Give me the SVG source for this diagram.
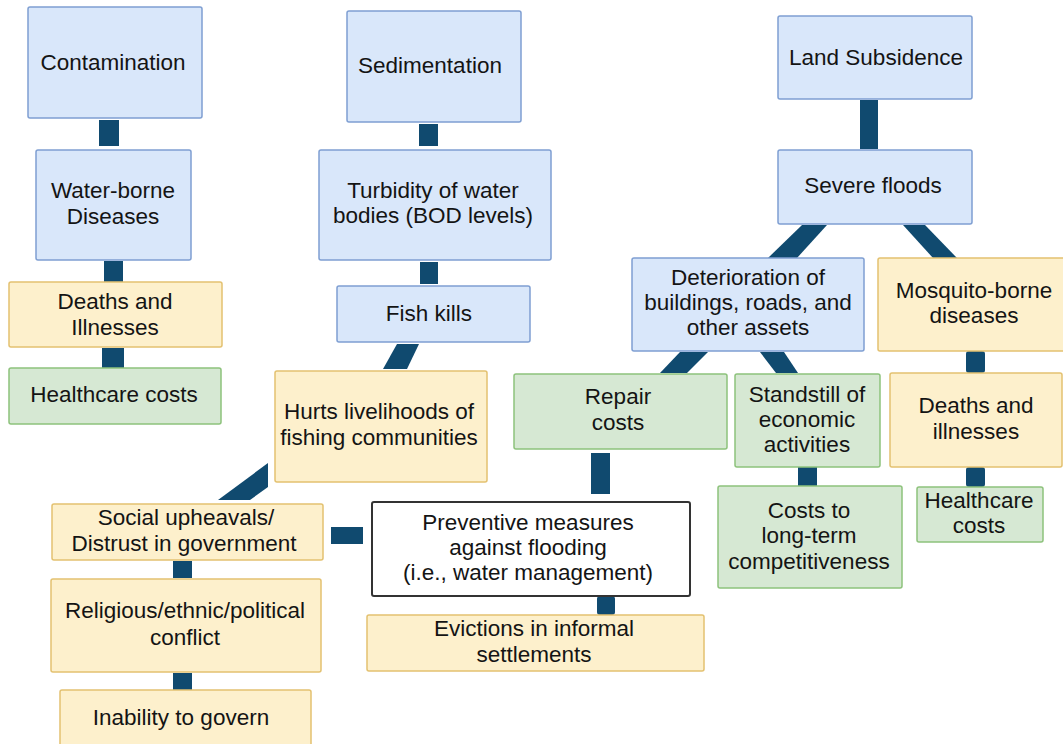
<svg xmlns="http://www.w3.org/2000/svg" width="1063" height="744" viewBox="0 0 1063 744">
<style>
.b{fill:#d9e7fa;stroke:#7f9fd2;stroke-width:1.5}
.y{fill:#fdf0cc;stroke:#e3c170;stroke-width:1.5}
.g{fill:#d6e8d3;stroke:#8dc27c;stroke-width:1.5}
.w{fill:#ffffff;stroke:#333333;stroke-width:2}
text{font-family:"Liberation Sans",Arial,Helvetica,sans-serif;font-size:22.5px;fill:#141414;text-anchor:middle}
.c{fill:#104a6f}
</style>
<rect width="1063" height="744" fill="#ffffff"/>
<g id="connectors">
<rect class="c" x="99" y="120" width="20" height="26"/>
<rect class="c" x="104" y="261" width="19" height="21"/>
<rect class="c" x="102" y="348" width="22" height="20"/>
<rect class="c" x="419" y="124" width="19" height="22"/>
<rect class="c" x="420" y="262" width="18" height="22"/>
<polygon class="c" points="397,344 419,344 407,369 383,369"/>
<polygon class="c" points="268,463 268,487 250,500 218,500"/>
<rect class="c" x="331" y="527" width="32" height="17"/>
<rect class="c" x="173" y="561" width="19" height="17"/>
<rect class="c" x="173" y="673" width="19" height="17"/>
<rect class="c" x="591" y="453" width="19" height="41"/>
<rect class="c" x="597" y="596" width="18" height="19" rx="3"/>
<rect class="c" x="860" y="100" width="18" height="49"/>
<polygon class="c" points="802,225 827,225 797,258 768,258"/>
<polygon class="c" points="903,225 925,225 957,258 933,258"/>
<polygon class="c" points="680,352 708,352 687,373 660,373"/>
<polygon class="c" points="760,352 784,352 798,373 776,373"/>
<rect class="c" x="966" y="351" width="19" height="22" rx="3"/>
<rect class="c" x="966" y="467" width="19" height="20" rx="3"/>
<rect class="c" x="798" y="467" width="19" height="19"/>
</g>
<g id="contamination"><rect class="b" x="28" y="7" width="174" height="111" rx="2"/><text x="113" y="70">Contamination</text></g>
<g id="waterborne"><rect class="b" x="36" y="150" width="155" height="110" rx="2"/><text x="113" y="198">Water-borne</text><text x="113" y="224">Diseases</text></g>
<g id="deaths1"><rect class="y" x="9" y="282" width="213" height="65" rx="2"/><text x="115" y="309">Deaths and</text><text x="115" y="335">Illnesses</text></g>
<g id="health1"><rect class="g" x="9" y="368" width="212" height="56" rx="2"/><text x="114" y="402">Healthcare costs</text></g>
<g id="sedimentation"><rect class="b" x="347" y="11" width="174" height="111" rx="2"/><text x="430" y="73">Sedimentation</text></g>
<g id="turbidity"><rect class="b" x="319" y="150" width="232" height="110" rx="2"/><text x="433" y="198">Turbidity of water</text><text x="433" y="223">bodies (BOD levels)</text></g>
<g id="fishkills"><rect class="b" x="337" y="286" width="193" height="56" rx="2"/><text x="429" y="321">Fish kills</text></g>
<g id="hurts"><rect class="y" x="275" y="371" width="212" height="111" rx="2"/><text x="379" y="419">Hurts livelihoods of</text><text x="379" y="445">fishing communities</text></g>
<g id="social"><rect class="y" x="52" y="504" width="271" height="56" rx="2"/><text x="186" y="525">Social upheavals/</text><text x="184" y="551">Distrust in government</text></g>
<g id="religious"><rect class="y" x="51" y="579" width="270" height="93" rx="2"/><text x="185" y="618">Religious/ethnic/political</text><text x="185" y="645">conflict</text></g>
<g id="inability"><rect class="y" x="60" y="690" width="251" height="62" rx="2"/><text x="181" y="725">Inability to govern</text></g>
<g id="preventive"><rect class="w" x="372" y="502" width="318" height="94" rx="2"/><text x="528" y="530">Preventive measures</text><text x="528" y="555">against flooding</text><text x="528" y="580">(i.e., water management)</text></g>
<g id="evictions"><rect class="y" x="367" y="615" width="337" height="56" rx="2"/><text x="534" y="636">Evictions in informal</text><text x="534" y="662">settlements</text></g>
<g id="repair"><rect class="g" x="514" y="374" width="213" height="75" rx="2"/><text x="618" y="404">Repair</text><text x="618" y="430">costs</text></g>
<g id="land"><rect class="b" x="778" y="16" width="194" height="83" rx="2"/><text x="876" y="65">Land Subsidence</text></g>
<g id="severe"><rect class="b" x="778" y="150" width="194" height="74" rx="2"/><text x="873" y="193">Severe floods</text></g>
<g id="deterioration"><rect class="b" x="632" y="258" width="232" height="93" rx="2"/><text x="748" y="285">Deterioration of</text><text x="748" y="310">buildings, roads, and</text><text x="748" y="335">other assets</text></g>
<g id="mosquito"><rect class="y" x="878" y="258" width="192" height="93" rx="2"/><text x="974" y="298">Mosquito-borne</text><text x="974" y="323">diseases</text></g>
<g id="standstill"><rect class="g" x="735" y="374" width="145" height="93" rx="2"/><text x="807" y="402">Standstill of</text><text x="807" y="427">economic</text><text x="807" y="452">activities</text></g>
<g id="costs"><rect class="g" x="718" y="486" width="184" height="102" rx="2"/><text x="809" y="518">Costs to</text><text x="809" y="543">long-term</text><text x="809" y="569">competitiveness</text></g>
<g id="deaths2"><rect class="y" x="890" y="373" width="172" height="94" rx="2"/><text x="976" y="413">Deaths and</text><text x="976" y="439">illnesses</text></g>
<g id="health2"><rect class="g" x="917" y="487" width="126" height="55" rx="2"/><text x="979" y="508">Healthcare</text><text x="979" y="533">costs</text></g>
</svg>
